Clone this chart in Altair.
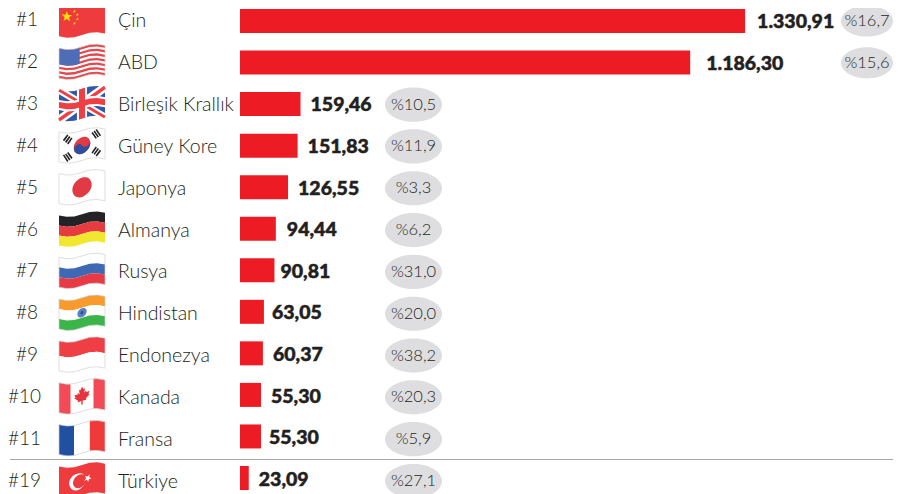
import math
import altair as alt
import pandas as pd

ranks = ["#1", "#2", "#3", "#4", "#5", "#6", "#7", "#8", "#9", "#10", "#11", "#19"]
countries = ["Çin", "ABD", "Birleşik Krallık", "Güney Kore", "Japonya", "Almanya",
             "Rusya", "Hindistan", "Endonezya", "Kanada", "Fransa", "Türkiye"]
values = [1330.91, 1186.30, 159.46, 151.83, 126.55, 94.44, 90.81, 63.05, 60.37, 55.30, 55.30, 23.09]
value_labels = ["1.330,91", "1.186,30", "159,46", "151,83", "126,55", "94,44", "90,81",
                "63,05", "60,37", "55,30", "55,30", "23,09"]
pct_labels = ["%16,7", "%15,6", "%10,5", "%11,9", "%3,3", "%6,2", "%31,0", "%20,0",
              "%38,2", "%20,3", "%5,9", "%27,1"]
label_gap_px = [12, 16, 10, 10, 10, 11, 6, 8, 10, 10, 8, 10]
pill_px = [859, 859, 405.5, 405.5, 405.5, 405.5, 405.5, 405.5, 405.5, 405.5, 405.5, 405.5]
pill_size = [2704, 2704, 3249, 3249, 3249, 3249, 3249, 3249, 3249, 3249, 3249, 3249]
rank_px = [30, 30, 30, 30, 30, 30, 30, 30, 30, 33, 33, 33]

W, H = 885, 486
PPU = 0.3795
BAR0 = 232
FONT = "Lato"
DARK = "#231f20"
RED = "#ED1C24"

df = pd.DataFrame({
    "rank": ranks, "country": countries, "value": values, "vlabel": value_labels,
    "pct": pct_labels, "pill": pill_px, "psize": pill_size, "rx": rank_px,
    "lpos": [v + g / PPU for v, g in zip(values, label_gap_px)],
})

# ---------- decorative flag artwork, as warped SVG symbol paths ----------
HH = 0.65

def warp(p):
    u, v = p
    return (u, v + 0.09 * math.sin(math.pi * (u + 1)) - 0.06 * u)

def poly(points, n=6):
    out = []
    m = len(points)
    for i in range(m):
        a, b = points[i], points[(i + 1) % m]
        for k in range(n):
            t = k / n
            out.append(warp((a[0] + (b[0] - a[0]) * t, a[1] + (b[1] - a[1]) * t)))
    return "M" + "L".join(f"{x:.3f},{y:.3f}" for x, y in out) + "Z"

def rect(u0, u1, v0, v1):
    return poly([(u0, v0), (u1, v0), (u1, v1), (u0, v1)])

def circle_pts(cx, cy, r, a0=0, a1=360, n=28):
    return [(cx + r * math.cos(math.radians(a0 + (a1 - a0) * i / n)),
             cy + r * math.sin(math.radians(a0 + (a1 - a0) * i / n))) for i in range(n + 1)]

def circle(cx, cy, r):
    return poly(circle_pts(cx, cy, r)[:-1], n=1)

def star(cx, cy, r, rot=-90):
    pts = []
    for i in range(10):
        rr = r if i % 2 == 0 else r * 0.42
        a = math.radians(rot + 36 * i)
        pts.append((cx + rr * math.cos(a), cy + rr * math.sin(a)))
    return poly(pts, n=1)

def bar(cx, cy, ang, ln, th):
    c, s = math.cos(math.radians(ang)), math.sin(math.radians(ang))
    pts = [(-ln, -th), (ln, -th), (ln, th), (-ln, th)]
    return poly([(cx + x * c - y * s, cy + x * s + y * c) for x, y in pts], n=1)

def hstripes(colors):
    h = 2 * HH / len(colors)
    return [(c, rect(-1, 1, -HH + i * h, -HH + (i + 1) * h)) for i, c in enumerate(colors)]

parts = {}
CR = "#EE3C3E"
parts["Çin"] = [(CR, rect(-1, 1, -HH, HH)), ("#FFE000", star(-0.66, -0.26, 0.24)),
                ("#FFE000", star(-0.33, -0.47, 0.07)), ("#FFE000", star(-0.2, -0.3, 0.07)),
                ("#FFE000", star(-0.2, -0.1, 0.07)), ("#FFE000", star(-0.33, 0.05, 0.07))]
us = [("#ffffff", rect(-1, 1, -HH, HH))]
sh = 2 * HH / 13
for i in range(0, 13, 2):
    us.append(("#E4474C", rect(-1, 1, -HH + i * sh, -HH + (i + 1) * sh)))
us.append(("#4F6CB6", rect(-1, -0.1, -HH, -HH + 7 * sh)))
parts["ABD"] = us
a = math.degrees(math.atan2(HH, 1))
parts["Birleşik Krallık"] = [
    ("#2F5AA8", rect(-1, 1, -HH, HH)),
    ("#ffffff", bar(0, 0, a, 1.19, 0.17)), ("#ffffff", bar(0, 0, -a, 1.19, 0.17)),
    ("#EF3F45", bar(0, 0, a, 1.19, 0.07)), ("#EF3F45", bar(0, 0, -a, 1.19, 0.07)),
    ("#ffffff", rect(-1, 1, -0.22, 0.22)), ("#ffffff", rect(-0.22, 0.22, -HH, HH)),
    ("#EF3F45", rect(-1, 1, -0.13, 0.13)), ("#EF3F45", rect(-0.13, 0.13, -HH, HH)),
]
r = 0.36
rot = math.radians(-25)
def rotp(p):
    return (p[0] * math.cos(rot) - p[1] * math.sin(rot), p[0] * math.sin(rot) + p[1] * math.cos(rot))
blue = circle_pts(0, 0, r, 0, 180) + circle_pts(-r / 2, 0, r / 2, 180, 360) + circle_pts(r / 2, 0, r / 2, 180, 0)
blue = [rotp(p) for p in blue]
kr = [("#ffffff", rect(-1, 1, -HH, HH)), ("#E23A44", circle(0, 0, r)), ("#2C4F9E", poly(blue, n=1))]
for (cx, cy, ang) in [(-0.62, -0.38, -55), (0.62, -0.38, 55), (-0.62, 0.38, 55), (0.62, 0.38, -55)]:
    c, s = math.cos(math.radians(ang + 90)), math.sin(math.radians(ang + 90))
    for d in (-0.11, 0, 0.11):
        kr.append(("#222222", bar(cx + d * c, cy + d * s, ang, 0.16, 0.035)))
parts["Güney Kore"] = kr
parts["Japonya"] = [("#ffffff", rect(-1, 1, -HH, HH)), ("#E23A44", circle(0, 0.0, 0.42))]
parts["Almanya"] = hstripes(["#222227", "#E63B3F", "#F1E72E"])
parts["Rusya"] = hstripes(["#ffffff", "#3F69B5", "#E63B45"])
parts["Hindistan"] = hstripes(["#F99A2C", "#ffffff", "#3BB54A"]) + [("#5B7FC4", circle(0, 0, 0.2)), ("#2C4F9E", circle(0, 0, 0.07))]
parts["Endonezya"] = hstripes(["#EF3F45", "#ffffff"])
leaf_r = [(0, -.42), (.07, -.29), (.13, -.32), (.10, -.12), (.17, -.2), (.20, -.13), (.33, -.15),
          (.28, -.03), (.33, 0), (.17, .14), (.19, .21), (.03, .19), (.03, .36)]
leaf = leaf_r + [(-x, y) for x, y in leaf_r[::-1]]
parts["Kanada"] = [("#ffffff", rect(-1, 1, -HH, HH)), ("#F24B57", rect(-1, -0.5, -HH, HH)),
                   ("#F24B57", rect(0.5, 1, -HH, HH)), ("#E8333C", poly(leaf, n=1))]
parts["Fransa"] = [("#20509F", rect(-1, -0.34, -HH, HH)), ("#ffffff", rect(-0.34, 0.34, -HH, HH)),
                   ("#EF3A3C", rect(0.34, 1, -HH, HH))]
parts["Türkiye"] = [(CR, rect(-1, 1, -HH, HH)), ("#ffffff", circle(-0.2, 0.02, 0.36)),
                    (CR, circle(-0.1, 0.02, 0.29)), ("#ffffff", star(0.25, 0.0, 0.17, rot=-60))]

outlined = ["Güney Kore", "Japonya", "Endonezya", "Rusya", "Hindistan", "Kanada", "Fransa", "ABD"]
rows = []
for c, lst in parts.items():
    for col, path in lst:
        rows.append({"country": c, "color": col, "path": path})
fdf = pd.DataFrame(rows)
base_rows = [{"country": c, "path": rect(-1, 1, -HH, HH)} for c in outlined]

xs = alt.Scale(domain=[-BAR0 / PPU, (W - BAR0) / PPU], nice=False, zero=False)

def yenc(lo, hi):
    return alt.Y("country:N", axis=None,
                 scale=alt.Scale(type="point", domain=countries, range=[lo, hi], padding=0))

X = lambda f: alt.X(f, scale=xs, axis=None)
PX = alt.X("pill:Q", scale=None, axis=None)
Y_BAR = yenc(13, 470)
Y_NAME = yenc(13, 474)
Y_PILL = yenc(13, 473)
Y_FLAG = yenc(12, 472)
Y_VAL = yenc(14, 472)

bars = alt.Chart(df).mark_bar(color=RED, size=24, cornerRadius=0).encode(x=X("value:Q"), y=Y_BAR)
rank_t = alt.Chart(df).mark_text(align="right", baseline="middle", font=FONT, fontSize=19, fontWeight=300, color=DARK, dy=-1).encode(
    x=alt.X("rx:Q", scale=None, axis=None), y=Y_NAME, text="rank:N")
name_t = alt.Chart(df).mark_text(align="left", baseline="middle", font=FONT, fontSize=19.5, fontWeight=300, color=DARK).encode(
    x=alt.value(110), y=Y_NAME, text="country:N")
val_t = alt.Chart(df).mark_text(align="left", baseline="middle", font=FONT, fontSize=19.5, fontWeight=900, color=DARK,
                                stroke=DARK, strokeWidth=0.5).encode(
    x=X("lpos:Q"), y=Y_VAL, text="vlabel:N")
ellipse = "M-1,0A1,0.6,0,1,1,1,0A1,0.6,0,1,1,-1,0Z"
pills = alt.Chart(df).mark_point(shape=ellipse, filled=True, opacity=1, color="#DEDEE0").encode(
    x=PX, y=Y_PILL, size=alt.Size("psize:Q", scale=None, legend=None))
pct_t = alt.Chart(df).mark_text(align="center", baseline="middle", font=FONT, fontSize=16.5, fontWeight=300, color=DARK).encode(
    x=PX, y=Y_PILL, text="pct:N")
rule = alt.Chart(pd.DataFrame({"a": [0]})).mark_rule(color="#a8a8a8", strokeWidth=1.2).encode(
    x=alt.value(2), x2=alt.value(W), y=alt.value(451.5))
outline = alt.Chart(pd.DataFrame(base_rows)).mark_point(filled=False, opacity=1, color="#d0d0d0", strokeWidth=0.7, size=2116).encode(
    x=alt.value(74), y=Y_FLAG, shape=alt.Shape("path:N", scale=None, legend=None))
flags = alt.Chart(fdf).mark_point(filled=True, opacity=1, size=2116, strokeWidth=0).encode(
    x=alt.value(74), y=Y_FLAG,
    fill=alt.Fill("color:N", scale=None, legend=None),
    shape=alt.Shape("path:N", scale=None, legend=None))

chart = alt.layer(rule, bars, pills, flags, outline, rank_t, name_t, val_t, pct_t).resolve_scale(
    y="independent"
).properties(
    width=W, height=H, padding=0, autosize=alt.AutoSizeParams(type="none"), background="white"
).configure_view(stroke=None)

chart.save("out.html", embed_options={"renderer": "svg", "actions": False})
